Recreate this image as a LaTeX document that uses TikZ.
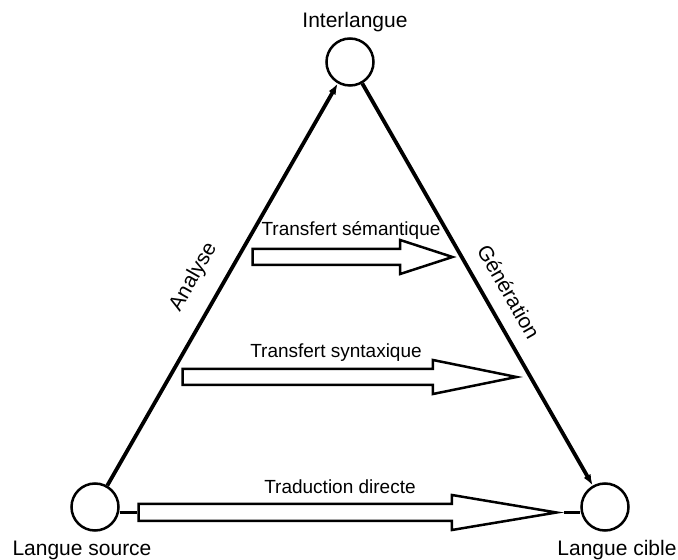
\documentclass[tikz,border=0pt]{standalone}
\usepackage{fontspec}
\setmainfont{Liberation Sans}
\usetikzlibrary{shapes.arrows,arrows.meta,positioning}

\tikzset{
  langue/.style={circle, draw, line width=2.5pt, minimum size=47pt, inner sep=0pt},
  nom/.style={font=\fontsize{21}{25}\selectfont, inner sep=0pt},
  petitnom/.style={font=\fontsize{19}{23}\selectfont, inner sep=0pt},
  transfert/.style={single arrow, draw, line width=2.5pt, inner xsep=0pt, inner ysep=6.75pt, single arrow head extend=9pt, anchor=tail},
  fleche/.style={line width=3.8pt, -{Latex[length=11pt,width=8pt]}},
}

\begin{document}
\begin{tikzpicture}[x=1pt,y=1pt]
\useasboundingbox (0,0) rectangle (678,560);
% les trois langues
\node[langue] (inter) at (350,498) {};
\node[langue] (src) at (95,53) {};
\node[langue] (cible) at (605,53) {};
\node[nom] (interlabel) at (355,538) {Interlangue};
\node[nom] (srclabel) at (82,9.5) {Langue source};
\node[nom] (ciblelabel) at (617,9.5) {Langue cible};

% analyse et generation
\draw[fleche] (src) -- (inter) node[nom, pos=0.483, sloped, above=17pt] {Analyse};
\draw[fleche] (inter) -- (cible) node[nom, pos=0.547, sloped, above=14pt] {Génération};

% les transferts (places par la queue)
\node[transfert, minimum height=200pt, single arrow tip angle=36] (semantique) at (251.25,303) {};
\node[transfert, minimum height=334pt, single arrow tip angle=23] (syntaxe) at (181.25,183) {};
\node[transfert, minimum height=418pt, single arrow tip angle=19, inner ysep=7.25pt] (directe) at (137.25,47.5) {};
\node[petitnom] (semlabel) at (351,330) {Transfert sémantique};
\node[petitnom] (synlabel) at (336,207) {Transfert syntaxique};
\node[petitnom] (dirlabel) at (340,73) {Traduction directe};
\draw[line width=2.5pt] (directe.tail -| src.east) -- (directe.tail);
\draw[line width=2.5pt] (directe.tip) -- (directe.tip -| cible.west);
\end{tikzpicture}
\end{document}
